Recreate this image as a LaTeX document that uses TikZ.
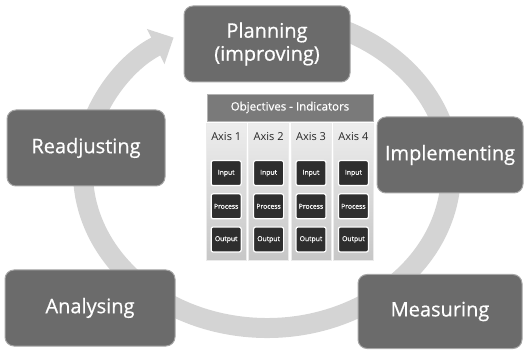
\documentclass[tikz,border=0pt]{standalone}
\usepackage{fontspec}
\setmainfont{Open Sans}
\newfontfamily\semifont{Open Sans}[FakeBold=0.6]
\usetikzlibrary{positioning}
\usetikzlibrary{arrows.meta}
\tikzstyle{stepbox} = [rectangle, rounded corners=9pt, fill=black!58, draw=black!35, line width=1pt, text=white, align=center, minimum height=76pt, font=\semifont\fontsize{20}{23}\selectfont]
\tikzstyle{axisbox} = [rectangle, top color=black!7, bottom color=black!22, draw=black!8, minimum width=40pt, minimum height=137pt, inner sep=0pt]
\tikzstyle{iobox}   = [rectangle, rounded corners=2pt, fill=black!82, draw=white, line width=1.2pt, text=white, minimum width=30pt, minimum height=25pt, inner sep=0pt, font=\semifont\fontsize{6.8}{7}\selectfont]
\tikzstyle{axislabel} = [inner sep=0pt, text=black!85, font=\fontsize{11}{11}\selectfont]

\begin{document}
\begin{tikzpicture}[x=1pt, y=1pt, ring/.style={line width=20pt, draw=black!17}]
\useasboundingbox (0,0) rectangle (525,351);

% Cycle
\coordinate (c) at (267,179);
\draw[ring, -{Triangle[width=38pt, length=20pt]}] (c) ++(80:184pt and 156pt)
  arc[start angle=80, end angle=-239.5, x radius=184pt, y radius=156pt];

% Define nodes
\node[stepbox, minimum width=166pt] (plan) at (267,307) {Planning\\(improving)};
\node[stepbox, minimum width=158pt] (readj) at (86,203) {Readjusting};
\node[stepbox, minimum width=146pt] (impl) at (450,196) {Implementing};
\node[stepbox, minimum width=170pt] (anal) at (90,43) {Analysing};
\node[stepbox, minimum width=164pt, minimum height=74pt] (meas) at (440,39.5) {Measuring};

% Objectives panel
\node[rectangle, fill=black!52, draw=black!30, text=white, minimum width=166pt, minimum height=27pt, font=\semifont\fontsize{11.5}{12}\selectfont] (obj) at (290,243.5) {Objectives - Indicators};

\node[axisbox, anchor=north west] (col1) at (206,228) {};
\node[axisbox, right = 2pt of col1] (col2) {};
\node[axisbox, right = 2pt of col2] (col3) {};
\node[axisbox, right = 2pt of col3] (col4) {};

\node[axislabel, below = 9pt of col1.north] (ax1) {Axis 1};
\node[axislabel, below = 9pt of col2.north] (ax2) {Axis 2};
\node[axislabel, below = 9pt of col3.north] (ax3) {Axis 3};
\node[axislabel, below = 9pt of col4.north] (ax4) {Axis 4};

\node[iobox, below = 37pt of col1.north] (in1) {Input};
\node[iobox, below = 7pt of in1]         (pr1) {Process};
\node[iobox, below = 7pt of pr1]         (out1) {Output};

\node[iobox, below = 37pt of col2.north] (in2) {Input};
\node[iobox, below = 7pt of in2]         (pr2) {Process};
\node[iobox, below = 7pt of pr2]         (out2) {Output};

\node[iobox, below = 37pt of col3.north] (in3) {Input};
\node[iobox, below = 7pt of in3]         (pr3) {Process};
\node[iobox, below = 7pt of pr3]         (out3) {Output};

\node[iobox, below = 37pt of col4.north] (in4) {Input};
\node[iobox, below = 7pt of in4]         (pr4) {Process};
\node[iobox, below = 7pt of pr4]         (out4) {Output};
\end{tikzpicture}
\end{document}
